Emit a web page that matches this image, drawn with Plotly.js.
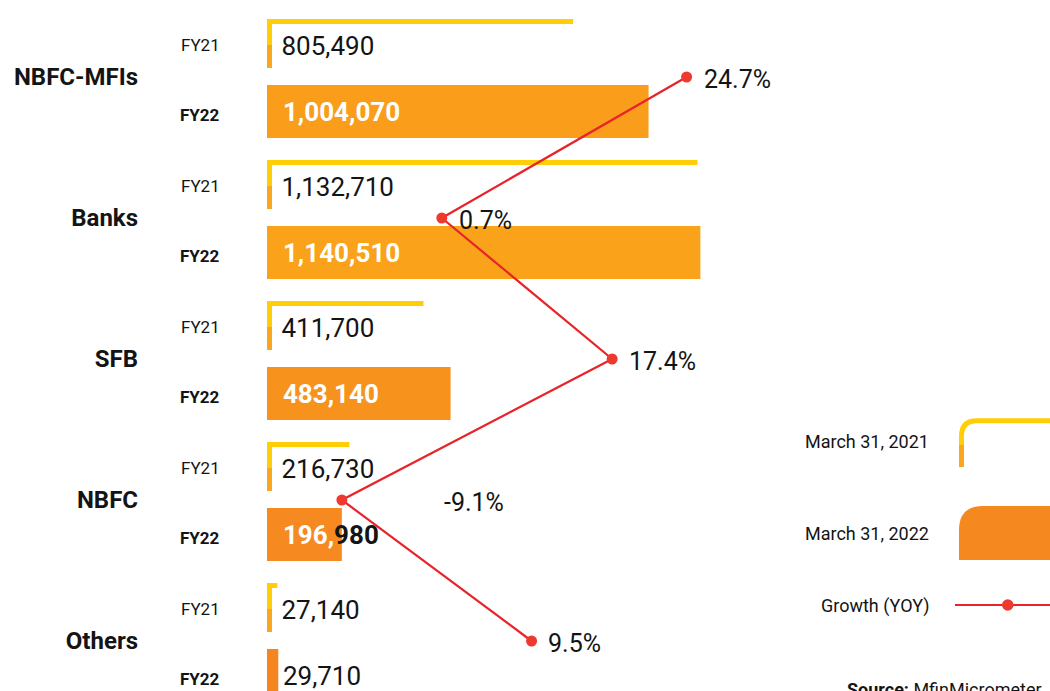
<!DOCTYPE html>
<html>
<head>
<meta charset="utf-8">
<script src="https://cdn.plot.ly/plotly-3.0.1.min.js"></script>
<style>html,body{margin:0;padding:0;background:#fff;}#chart{width:1050px;height:691px;}</style>
</head>
<body>
<div id="chart"></div>
<script>
// ---- data ----
const categories = ['NBFC-MFIs', 'Banks', 'SFB', 'NBFC', 'Others'];
const fy21 = [805490, 1132710, 411700, 216730, 27140];
const fy22 = [1004070, 1140510, 483140, 196980, 29710];
const growth = [24.7, 0.7, 17.4, -9.1, 9.5];
const periodLabels = ['FY21', 'FY22'];
const legendLabels = ['March 31, 2021', 'March 31, 2022', 'Growth (YOY)'];
const sourceName = 'MfinMicrometer';

// ---- layout helpers (pixels) ----
const W = 1050, H = 691, L = 267;
const PW = W - L;
const PX_PER_UNIT = 3.80e-4;           // pixel per value unit on bar axis
const xMax = PW / PX_PER_UNIT;
const PITCH = 141;                      // px per category
const yTop = -77 / PITCH, yBot = (H - 77) / PITCH;
const u = p => p / PITCH;               // px -> category units
const px = p => (p - L) / PW;           // paper x
const py = p => 1 - p / H;              // paper y
const BORDER = 5;
const borderUnits = BORDER / PX_PER_UNIT;

const dark = '#141414';
const nb1 = '\u00A0';
const nb = '\u00A0\u00A0';
const fmt = v => v.toLocaleString('en-US');

// styles
const fy22Colors = ['#F99D1B', '#F9A21A', '#F7921D', '#F6891F', '#F5851F'];
const growthShift = [15, 15, 15, 100, 14];

// FY22 labels: white part inside bar, dark part beyond
const FS = 26;
function fy22Label(v) {
  const s = fmt(v);
  const barLen = v * PX_PER_UNIT;
  let pos = 3 + 13, cut = s.length;
  for (let k = 0; k < s.length; k++) {
    pos += (s[k] === ',' ? 0.22 : 0.562) * FS;
    if (pos > barLen) { cut = k; break; }
  }
  if (cut === 0) return nb + s;
  if (cut === s.length) return '<b>' + nb + s + '</b>';
  return '<b>' + nb + s.slice(0, cut) + '<span style="color:' + dark + '">' + s.slice(cut) + '</span></b>';
}
const fy22Text = fy22.map(fy22Label);
const fy22TextColor = fy22.map(v => (v * PX_PER_UNIT > 30 ? '#ffffff' : dark));

const traces = [
  // FY21 outline: colored bar
  {
    type: 'bar', orientation: 'h', x: fy21, y: categories,
    offset: u(-58), width: u(49),
    marker: { color: '#FFCE06', line: { width: 0 } },
    hoverinfo: 'skip', name: legendLabels[0]
  },
  // FY21 outline: lower left stroke (gradient toward orange)
  {
    type: 'bar', orientation: 'h', x: fy21.map(() => borderUnits), y: categories,
    offset: u(-32), width: u(23),
    marker: { color: '#F8A71E', line: { width: 0 } },
    hoverinfo: 'skip', showlegend: false
  },
  // FY21 outline: white interior + value labels
  {
    type: 'bar', orientation: 'h', x: fy21, y: categories, base: borderUnits,
    offset: u(-53), width: u(44),
    marker: { color: '#ffffff', line: { width: 0 } },
    text: fy21.map(v => nb1 + fmt(v)), textposition: 'inside', insidetextanchor: 'start',
    textangle: 0, constraintext: 'none', cliponaxis: false,
    insidetextfont: { family: 'Roboto', size: FS, color: dark },
    hoverinfo: 'skip', showlegend: false
  },
  // FY22 filled bars
  {
    type: 'bar', orientation: 'h', x: fy22, y: categories,
    offset: u(8), width: u(53),
    marker: { color: fy22Colors, line: { width: 0 } },
    text: fy22Text, textposition: 'inside', insidetextanchor: 'start',
    textangle: 0, constraintext: 'none', cliponaxis: false,
    insidetextfont: { family: 'Roboto', size: FS, color: fy22TextColor },
    hoverinfo: 'skip', name: legendLabels[1]
  },
  // Growth line
  {
    type: 'scatter', mode: 'lines+markers', x: growth, y: categories,
    xaxis: 'x2', yaxis: 'y',
    line: { color: '#E8232A', width: 2.2 },
    marker: { color: '#EE3A2E', size: 11 },
    cliponaxis: false, hoverinfo: 'skip', name: legendLabels[2]
  }
];

const annotations = [];
categories.forEach((c, i) => {
  annotations.push({
    xref: 'paper', yref: 'y', x: px(200), y: i + u(-32), xanchor: 'center', yanchor: 'middle',
    text: periodLabels[0], showarrow: false, font: { family: 'Roboto', size: 17, color: dark }
  });
  annotations.push({
    xref: 'paper', yref: 'y', x: px(200), y: i + u(38), xanchor: 'center', yanchor: 'middle',
    text: '<b>' + periodLabels[1] + '</b>', showarrow: false, font: { family: 'Roboto', size: 17, color: dark }
  });
  annotations.push({
    xref: 'x2', yref: 'y', x: growth[i], y: c, xanchor: 'left', yanchor: 'middle',
    xshift: growthShift[i], yshift: -2,
    text: growth[i].toFixed(1) + '%', showarrow: false, font: { family: 'Roboto', size: 25, color: dark }
  });
});
// legend texts
[441, 533, 606].forEach((yy, k) => {
  annotations.push({
    xref: 'paper', yref: 'paper', x: px(931), y: py(yy), xanchor: 'right', yanchor: 'middle',
    text: legendLabels[k], showarrow: false, font: { family: 'Roboto', size: 18, color: dark }
  });
});
annotations.push({
  xref: 'paper', yref: 'paper', x: px(845), y: py(677), xanchor: 'left', yanchor: 'top',
  text: '<b>Source:</b> ' + sourceName, showarrow: false, font: { family: 'Roboto', size: 18, color: dark }
});

const shapes = [
  // legend: 2021 outline sample
  { type: 'path', xref: 'paper', yref: 'paper', layer: 'above',
    path: `M ${px(961.5)},${py(467)} L ${px(961.5)},${py(436)} Q ${px(961.5)},${py(420.8)} ${px(977)},${py(420.8)} L ${px(1060)},${py(420.8)}`,
    line: { color: '#FFCE06', width: 5 } },
  { type: 'line', xref: 'paper', yref: 'paper', layer: 'above',
    x0: px(961.5), x1: px(961.5), y0: py(467), y1: py(445),
    line: { color: '#F8A71E', width: 5 } },
  // legend: 2022 filled sample
  { type: 'path', xref: 'paper', yref: 'paper', layer: 'above',
    path: `M ${px(959)},${py(560)} L ${px(959)},${py(530)} Q ${px(959)},${py(506)} ${px(983)},${py(506)} L ${px(1060)},${py(506)} L ${px(1060)},${py(560)} Z`,
    fillcolor: '#F5891F', line: { width: 0 } },
  // legend: growth sample
  { type: 'line', xref: 'paper', yref: 'paper', layer: 'above',
    x0: px(955), x1: px(1060), y0: py(605), y1: py(605),
    line: { color: '#E8232A', width: 2.2 } },
  { type: 'circle', xref: 'paper', yref: 'paper', layer: 'above',
    x0: px(1002), x1: px(1013.5), y0: py(599.2), y1: py(610.8),
    fillcolor: '#EE3A2E', line: { width: 0 } }
];

const layout = {
  width: W, height: H,
  margin: { l: L, r: 0, t: 0, b: 0, pad: 0 },
  paper_bgcolor: '#ffffff', plot_bgcolor: '#ffffff',
  showlegend: false, barmode: 'overlay',
  font: { family: 'Roboto', color: dark },
  xaxis: { range: [0, xMax], visible: false, fixedrange: true },
  xaxis2: { range: [-16.44, 60.33], overlaying: 'x', visible: false, fixedrange: true },
  yaxis: {
    type: 'category', categoryorder: 'array', categoryarray: categories,
    range: [yBot, yTop], autorange: false,
    showgrid: false, zeroline: false, showline: false, ticks: '',
    ticklabelstandoff: 128,
    tickfont: { family: 'Roboto', size: 24, weight: 'bold', color: dark },
    automargin: false, fixedrange: true
  },
  annotations: annotations,
  shapes: shapes
};

Plotly.newPlot('chart', traces, layout, { displayModeBar: false, staticPlot: true });
</script>
</body>
</html>
